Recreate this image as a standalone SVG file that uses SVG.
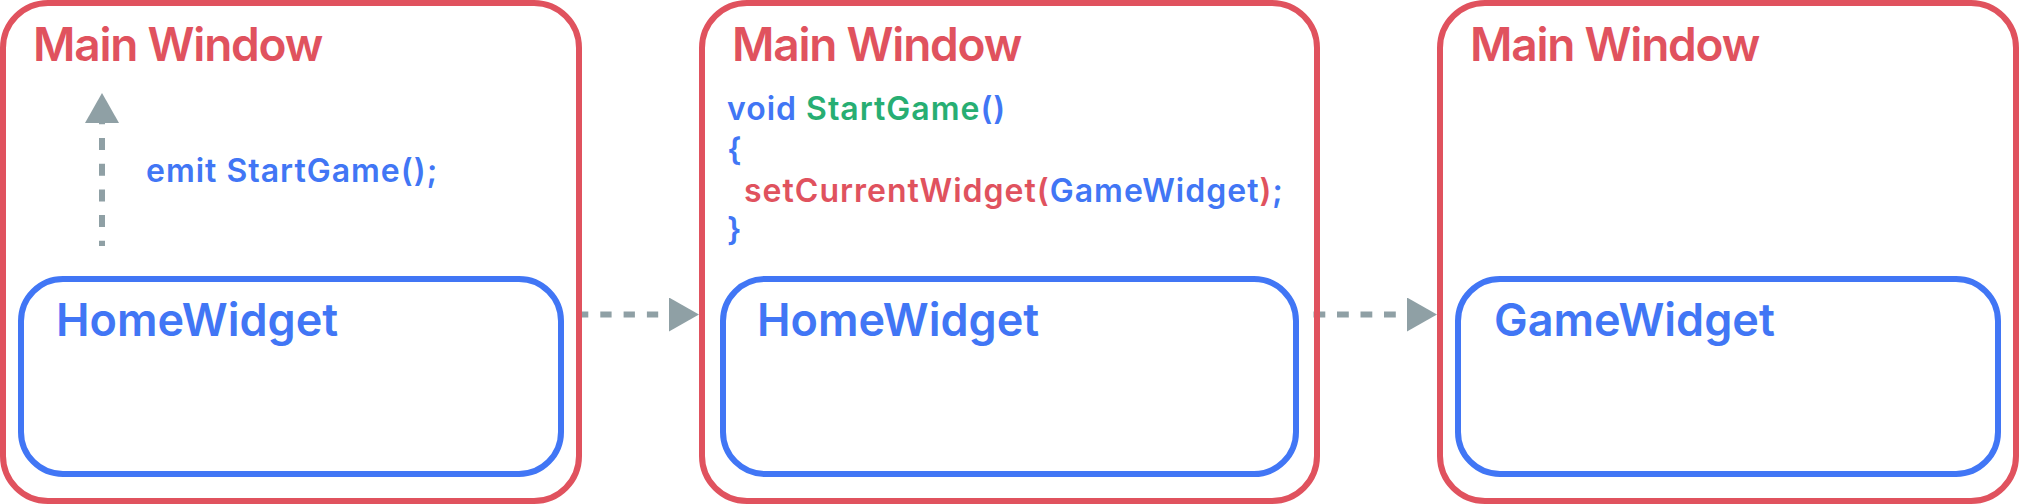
<svg xmlns="http://www.w3.org/2000/svg" width="2019" height="504" viewBox="0 0 2019 504">
  <defs>
    <style>
      .win { fill: none; stroke: #E0525E; stroke-width: 6; }
      .wid { fill: none; stroke: #4176F5; stroke-width: 6; }
      .title { font-family: Inter, "Noto Sans", sans-serif; font-weight: 600; font-size: 46px; letter-spacing: -1.2px; fill: #E0525E; }
      .wname { font-family: Inter, "Noto Sans", sans-serif; font-weight: 600; font-size: 45px; fill: #4176F5; }
      .code { font-family: Inter, "Noto Sans", sans-serif; font-weight: 600; font-size: 32px; letter-spacing: 1px; fill: #4176F5; }
      .red { fill: #E0525E; }
      .green { fill: #27AE73; }
      .blue { fill: #4176F5; }
      .conn { fill: none; stroke: #8FA0A5; stroke-width: 6; }
    </style>
    <marker id="arrow" markerUnits="userSpaceOnUse" markerWidth="30" markerHeight="34" viewBox="0 0 30 34" refX="0" refY="17" orient="auto">
      <path d="M0 0 L30 17 L0 34 Z" fill="#8FA0A5"/>
    </marker>
  </defs>
  <rect width="2019" height="504" fill="#FFFFFF"/>

  <g id="connectors">
    <path class="conn" d="M102 246 V123" stroke-dasharray="12 13.7" stroke-dashoffset="6.8" marker-end="url(#arrow)"/>
    <path class="conn" d="M577 314.5 H669" stroke-dasharray="11.3 12" marker-end="url(#arrow)"/>
    <path class="conn" d="M1313.5 314.5 H1407" stroke-dasharray="11.8 11.7" marker-end="url(#arrow)"/>
  </g>

  <g id="window1">
    <rect class="win" x="3" y="3" width="576" height="498" rx="45" ry="45"/>
    <text class="title" x="33" y="61">Main Window</text>
    <text class="code" x="146" y="182">emit StartGame();</text>
    <g id="homewidget1">
      <rect class="wid" x="21" y="279" width="540" height="195" rx="42" ry="42"/>
      <text class="wname" x="56" y="336">HomeWidget</text>
    </g>
  </g>

  <g id="window2">
    <rect class="win" x="702" y="3" width="615" height="498" rx="45" ry="45"/>
    <text class="title" x="732" y="61">Main Window</text>
    <text class="code" x="727" y="120">void <tspan class="green">StartGame</tspan>()</text>
    <text class="code" x="727" y="161">{</text>
    <text class="code" x="744" y="202"><tspan class="red">setCurrentWidget(</tspan>GameWidget<tspan class="red">)</tspan>;</text>
    <text class="code" x="727" y="241">}</text>
    <g id="homewidget2">
      <rect class="wid" x="723" y="279" width="573" height="195" rx="42" ry="42"/>
      <text class="wname" x="757" y="336">HomeWidget</text>
    </g>
  </g>

  <g id="window3">
    <rect class="win" x="1440" y="3" width="576" height="498" rx="45" ry="45"/>
    <text class="title" x="1470" y="61">Main Window</text>
    <g id="gamewidget">
      <rect class="wid" x="1458" y="279" width="540" height="195" rx="42" ry="42"/>
      <text class="wname" x="1494" y="336">GameWidget</text>
    </g>
  </g>
</svg>
